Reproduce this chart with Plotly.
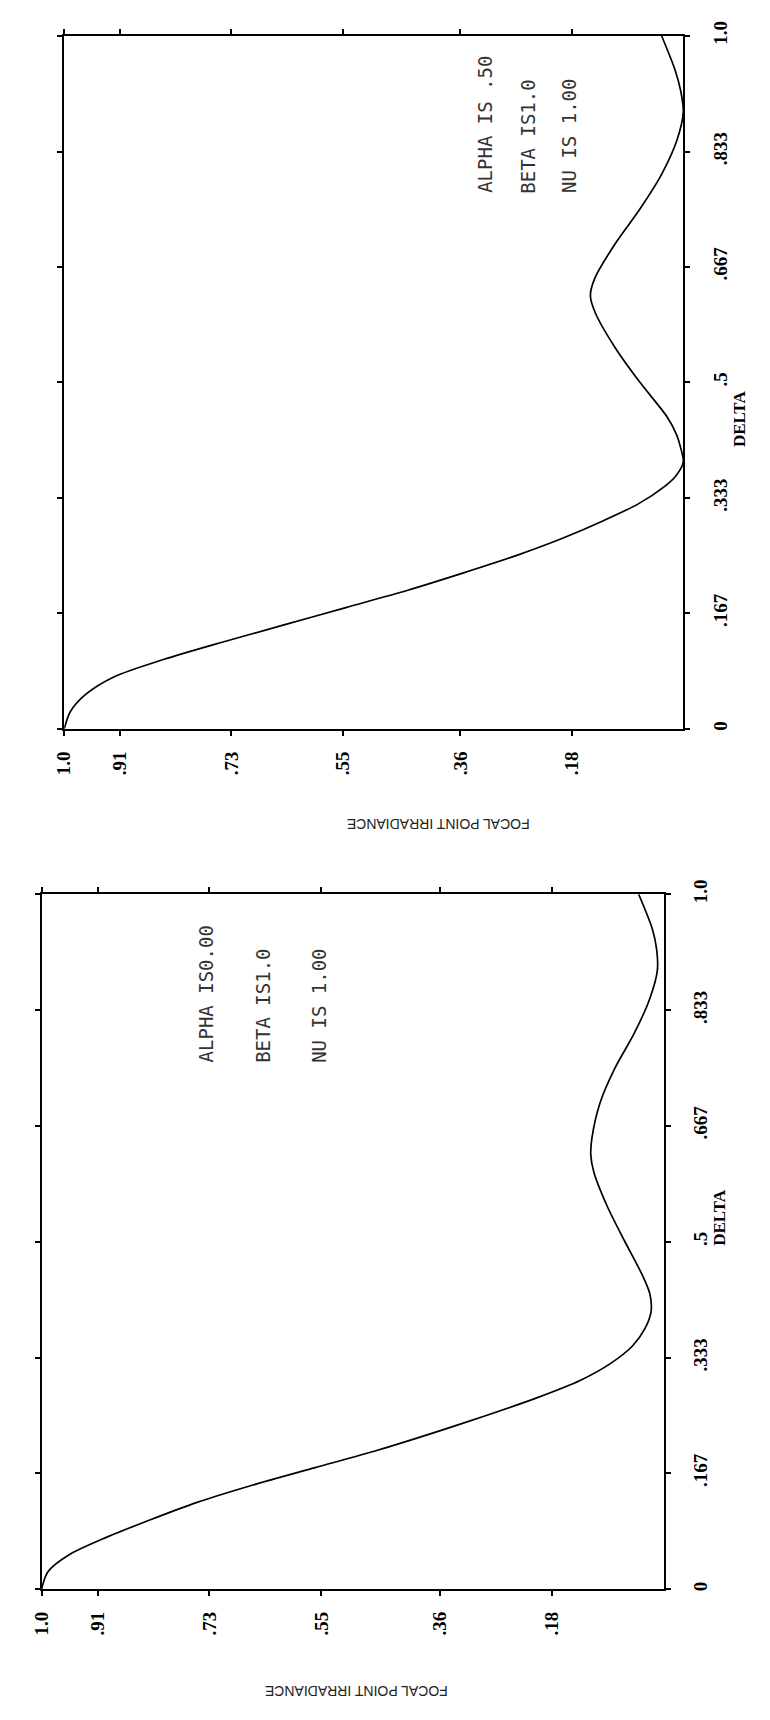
import plotly.graph_objects as go

# ---- data ----
# upper panel: ALPHA IS .50
delta_a = [0, .025, .05, .075, .1, .125, .15, .175, .2, .225, .25, .275, .3, .325, .35, .365,
           .385, .405, .425, .45, .5, .55, .6, .625, .65, .7, .75, .8, .85, .89, .92, .95, 1.0]
irr_a = [1.0, .99, .965, .92, .84, .745, .645, .545, .445, .355, .27, .195, .13, .072, .03, .012,
         .0, .004, .011, .026, .07, .11, .142, .15, .143, .11, .07, .035, .01, .0, .004, .013, .035]

# lower panel: ALPHA IS 0.00
delta_b = [0, .025, .05, .075, .1, .125, .15, .175, .2, .225, .25, .275, .3, .325, .35, .375,
           .4, .425, .45, .5, .55, .6, .625, .65, .7, .75, .8, .85, .89, .92, .95, 1.0]
irr_b = [1.0, .99, .955, .895, .825, .75, .66, .56, .46, .37, .285, .205, .135, .085, .05, .03,
         .02, .022, .033, .062, .09, .112, .117, .115, .102, .078, .047, .022, .01, .011, .018, .04]

irr_tickvals = [1.0, .91, .73, .55, .36, .18]
irr_ticktext = ["1.0", ".91", ".73", ".55", ".36", ".18"]
delta_tickvals = [0, .167, .333, .5, .667, .833, 1.0]
delta_ticktext = ["0", ".167", ".333", ".5", ".667", ".833", "1.0"]

labels_a = ["ALPHA IS .50", "BETA IS1.0", "NU IS 1.00"]
labels_b = ["ALPHA IS0.00", "BETA IS1.0", "NU IS 1.00"]
x_title = "FOCAL POINT IRRADIANCE"
y_title = "DELTA"

W, H = 770, 1720
tickfont = dict(family="Liberation Serif", size=19, color="black", weight="bold")
line_style = dict(color="black", width=1.7)

fig = go.Figure()
fig.add_trace(go.Scatter(x=irr_a, y=delta_a, mode="lines", line=dict(shape="spline", smoothing=0.8, **line_style),
                         xaxis="x", yaxis="y", showlegend=False))
fig.add_trace(go.Scatter(x=irr_b, y=delta_b, mode="lines", line=dict(shape="spline", smoothing=0.8, **line_style),
                         xaxis="x2", yaxis="y2", showlegend=False))

def xax(dom, anchor):
    return dict(domain=dom, range=[1.0, 0.0], anchor=anchor, side="bottom", showline=True, linecolor="black",
                linewidth=2, mirror="ticks", ticks="outside", ticklen=5, tickwidth=2, tickcolor="black",
                tickvals=irr_tickvals, ticktext=irr_ticktext, tickangle=-90, tickfont=tickfont,
                showgrid=False, zeroline=False, ticklabelstandoff=8)

def yax(dom, anchor):
    return dict(domain=dom, range=[0, 1.0], anchor=anchor, side="right", showline=True, linecolor="black",
                linewidth=2, mirror="ticks", ticks="outside", ticklen=5, tickwidth=2, tickcolor="black",
                tickvals=delta_tickvals, ticktext=delta_ticktext, tickangle=-90, tickfont=tickfont,
                showgrid=False, zeroline=False, ticklabelstandoff=14)

x0a, x1a, y0a, y1a = 54, 682, 21, 721
x0b, x1b, y0b, y1b = 31, 662, 888, 1590
fig.update_layout(
    width=W, height=H, margin=dict(l=0, r=0, t=0, b=0),
    paper_bgcolor="white", plot_bgcolor="white",
    xaxis=xax([x0a / W, x1a / W], "y"),
    yaxis=yax([1 - y1a / H, 1 - y0a / H], "x"),
    xaxis2=xax([x0b / W, x1b / W], "y2"),
    yaxis2=yax([1 - y1b / H, 1 - y0b / H], "x2"),
)

annfont = dict(family="DejaVu Sans Mono", size=19, color="#333")
ann = []
# parameter texts (rotated, reading bottom-to-top)
for t, xa in zip(labels_a, [0.32, 0.25, 0.185]):
    ann.append(dict(text=t, x=xa, y=0.77, xref="x", yref="y", textangle=-90, showarrow=False,
                    xanchor="center", yanchor="bottom", font=annfont))
for t, xa in zip(labels_b, [0.735, 0.645, 0.555]):
    ann.append(dict(text=t, x=xa, y=0.755, xref="x2", yref="y2", textangle=-90, showarrow=False,
                    xanchor="center", yanchor="bottom", font=annfont))
# axis titles
dfont = dict(family="Liberation Serif", size=17, color="black", weight="bold")
ann.append(dict(text=y_title, x=750 / W, y=1 - 378 / H, xref="paper", yref="paper", textangle=-90,
                showarrow=False, font=dfont))
ann.append(dict(text=y_title, x=731 / W, y=1 - 1245 / H, xref="paper", yref="paper", textangle=-90,
                showarrow=False, font=dfont))
tfont = dict(family="Liberation Sans", size=14, color="#222")
ann.append(dict(text=x_title, x=433 / W, y=1 - 817 / H, xref="paper", yref="paper", textangle=180,
                showarrow=False, font=tfont))
ann.append(dict(text=x_title, x=255 / W, y=1 - 1703 / H, xref="paper", yref="paper", textangle=180,
                showarrow=False, font=tfont))
fig.update_layout(annotations=ann)

fig.write_html("out.html")
